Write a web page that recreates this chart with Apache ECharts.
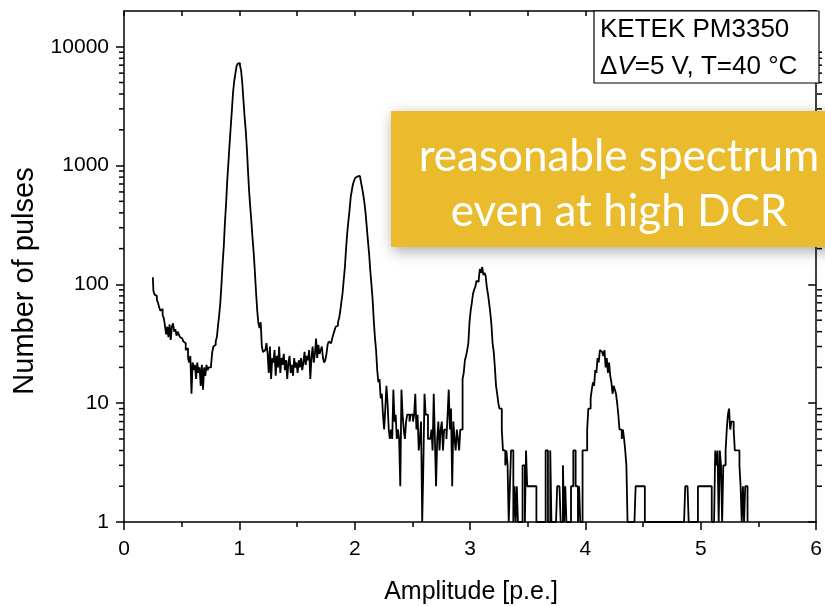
<!DOCTYPE html>
<html>
<head>
<meta charset="utf-8">
<script src="https://cdn.jsdelivr.net/npm/echarts@6/dist/echarts.min.js"></script>
<style>
html,body{margin:0;padding:0;background:#fff;}
#c{width:825px;height:606px;}
</style>
</head>
<body>
<div id="c"></div>
<script>
// ---- data ----
const binStart = 0.25;      // amplitude of first bin centre [p.e.]
const binWidth = 0.01;      // bin width [p.e.]
const counts = [
  115, 88, 82, 80, 74,
  70, 64, 60, 62, 55, 52, 45, 38, 44, 36,
  46, 34, 44, 47, 40, 42, 37, 40, 38, 36,
  35, 36, 33, 32, 28, 29, 24, 22, 25, 12,
  22, 19, 21, 16, 22, 18, 20, 14, 21, 13,
  20, 17, 21, 19, 20, 20, 21, 27, 30, 31,
  33, 36, 45, 55, 70, 100, 150, 210, 330, 480,
  750, 1050, 1500, 2100, 2900, 4100, 5100, 5900, 6800, 7200,
  7300, 7000, 6300, 5000, 3600, 2600, 2000, 1400, 900, 600,
  440, 330, 240, 180, 125, 85, 60, 47, 43, 48,
  30, 27, 28, 27, 32, 26, 18, 30, 16, 24,
  22, 28, 17, 25, 20, 30, 18, 24, 21, 26,
  19, 23, 16, 22, 25, 18, 21, 17, 24, 20,
  22, 18, 23, 20, 24, 19, 22, 27, 21, 25,
  23, 28, 16, 24, 30, 22, 26, 35, 24, 31,
  26, 28, 30, 24, 22, 23, 26, 31, 33, 32,
  33, 35, 38, 41, 44, 45, 48, 52, 60, 72,
  85, 110, 140, 200, 270, 340, 420, 540, 620, 700,
  750, 790, 810, 800, 820, 810, 720, 640, 560, 480,
  390, 300, 230, 180, 130, 100, 75, 50, 36, 28,
  19, 15, 16, 11, 12, 8, 6, 9, 14, 10,
  6, 5, 6, 5, 13, 7, 8, 5, 6, 5,
  2, 13, 8, 6, 5, 7, 8, 8, 7, 8,
  8, 7, 8, 12, 6, 8, 4, 5, 7, 1,
  3, 12, 8, 8, 5, 5, 5, 6, 4, 12,
  5, 2, 5, 7, 4, 6, 7, 4, 6, 6,
  5, 8, 13, 6, 9, 2, 7, 5, 4, 6,
  5, 4, 6, 6, 16, 18, 23, 25, 28, 32,
  48, 60, 70, 83, 90, 95, 107, 105, 110, 135,
  125, 140, 120, 125, 118, 95, 83, 70, 58, 46,
  32, 27, 20, 14, 12, 10, 9, 9, 6, 4,
  4, 3, 4, 3, 1, 2, 4, 4, 1, 2,
  1, 2, 1, 1, 1, 1, 3, 3, 1, 4,
  2, 2, 2, 2, 2, 2, 2, 2, 1, 1,
  1, 1, 1, 1, 1, 1, 4, 4, 1, 1,
  4, 1, 1, 1, 1, 1, 2, 2, 2, 1,
  1, 3, 1, 2, 1, 1, 1, 1, 2, 2,
  4, 4, 2, 2, 1, 2, 1, 1, 4, 4,
  4, 4, 6, 9, 9, 11, 13, 15, 14, 19,
  18, 24, 22, 28, 27, 28, 25, 28, 20, 24,
  18, 22, 17, 15, 12, 14, 13, 12, 10, 8,
  6, 6, 5, 6, 5, 4, 3, 1, 1, 1,
  1, 1, 1, 1, 2, 2, 2, 2, 2, 2,
  2, 2, 1, 1, 1, 1, 1, 1, 1, 1,
  1, 1, 1, 1, 1, 1, 1, 1, 1, 1,
  1, 1, 1, 1, 1, 1, 1, 1, 1, 1,
  1, 1, 1, 1, 1, 1, 1, 2, 2, 2,
  1, 1, 1, 1, 1, 1, 1, 1, 2, 2,
  2, 2, 2, 2, 2, 2, 2, 2, 2, 2,
  1, 1, 1, 4, 3, 4, 1, 4, 3, 1,
  3, 3, 4, 6, 8, 9, 6, 7, 7, 6,
  4, 4, 4, 4, 3, 2, 1, 2, 1, 2,
  2, 1
];
const xMin = 0, xMax = 6;
const yMin = 1, yMax = 20000;
const yTickLabels = ['1', '10', '100', '1000', '10000'];
const minorMultipliers = [2, 3, 4, 5, 6, 7, 8, 9];
const xTitle = 'Amplitude [p.e.]';
const yTitle = 'Number of pulses';
const infoLine1 = 'KETEK PM3350';
const infoLine2Parts = ['Δ', 'V', '=5 V, T=40 °C'];
const calloutLines = ['reasonable spectrum', 'even at high DCR'];

// ---- chart ----
const seriesData = counts.map((c, i) => [+(binStart + i * binWidth).toFixed(2), c]);
const FONT = 'Liberation Sans, Arial, sans-serif';
const chart = echarts.init(document.getElementById('c'), null, {renderer: 'canvas'});

const G = {left: 124, right: 3, top: 11, bottom: 84};
const axisLineStyle = {color: '#000', width: 1.5};

chart.setOption({
  animation: false,
  backgroundColor: '#fff',
  grid: {left: G.left, right: G.right, top: G.top, bottom: G.bottom, containLabel: false},
  xAxis: [
    {
      type: 'value', min: xMin, max: xMax, interval: 1, position: 'bottom',
      axisLine: {show: true, onZero: false, lineStyle: axisLineStyle},
      axisTick: {show: true, inside: false, length: 8, lineStyle: axisLineStyle},
      minorTick: {show: true, splitNumber: 2, length: 5, lineStyle: axisLineStyle},
      splitLine: {show: false},
      axisLabel: {fontSize: 21, color: '#000', margin: 17, fontFamily: FONT}
    },
    {
      type: 'value', min: xMin, max: xMax, interval: 0.5, position: 'top',
      axisLine: {show: true, onZero: false, lineStyle: axisLineStyle},
      axisTick: {show: true, inside: true, length: 5, lineStyle: axisLineStyle},
      splitLine: {show: false},
      axisLabel: {show: false}
    }
  ],
  yAxis: [
    {
      type: 'log', logBase: 10, min: yMin, max: yMax, position: 'left',
      axisLine: {show: true, onZero: false, lineStyle: axisLineStyle},
      axisTick: {show: true, inside: false, length: 8, lineStyle: axisLineStyle},
      splitLine: {show: false},
      axisLabel: {
        fontSize: 21, color: '#000', margin: 15, fontFamily: FONT,
        showMaxLabel: false,
        formatter: function (v) {
          const s = String(Math.round(v));
          return yTickLabels.indexOf(s) >= 0 ? s : '';
        }
      }
    },
    {
      type: 'log', logBase: 10, min: yMin, max: yMax, position: 'right',
      axisLine: {show: true, onZero: false, lineStyle: axisLineStyle},
      axisTick: {show: true, inside: true, length: 8, lineStyle: axisLineStyle},
      splitLine: {show: false},
      axisLabel: {show: false}
    }
  ],
  series: [{
    type: 'line',
    xAxisIndex: 0, yAxisIndex: 0,
    step: 'middle',
    data: seriesData,
    symbol: 'none',
    clip: true,
    lineStyle: {color: '#000', width: 1.8},
    z: 3
  }]
});

// minor log ticks + annotations
const elements = [];
const plotLeft = G.left, plotRight = 825 - G.right;
for (let k = 0; Math.pow(10, k + 1) <= yMax; k++) {
  minorMultipliers.forEach(m => {
    const v = m * Math.pow(10, k);
    if (v >= yMax) return;
    const y = chart.convertToPixel({yAxisIndex: 0}, v);
    elements.push({type: 'line', shape: {x1: plotLeft - 5, y1: y, x2: plotLeft, y2: y},
      style: {stroke: '#000', lineWidth: 1.5}, z: 10});
    elements.push({type: 'line', shape: {x1: plotRight - 5, y1: y, x2: plotRight, y2: y},
      style: {stroke: '#000', lineWidth: 1.5}, z: 10});
  });
}

// axis titles
elements.push({
  type: 'text', x: 471, y: 592, z: 10,
  style: {text: xTitle, font: '25px ' + FONT, fill: '#000', textAlign: 'center', textVerticalAlign: 'middle'}
});
elements.push({
  type: 'text', x: 25, y: 281, rotation: Math.PI / 2, z: 10,
  style: {text: yTitle, font: '29px ' + FONT, fill: '#000', textAlign: 'center', textVerticalAlign: 'middle'}
});

// info box
elements.push({
  type: 'rect', shape: {x: 594, y: 11, width: 225, height: 72},
  style: {fill: '#fff', stroke: '#000', lineWidth: 1.2}, z: 20
});
elements.push({
  type: 'text', x: 600, y: 30, z: 21,
  style: {text: infoLine1, font: '26px ' + FONT, fill: '#000', textAlign: 'left', textVerticalAlign: 'middle'}
});
elements.push({
  type: 'text', x: 600, y: 67, z: 21,
  style: {
    text: '{n|' + infoLine2Parts[0] + '}{i|' + infoLine2Parts[1] + '}{n|' + infoLine2Parts[2] + '}',
    textAlign: 'left', textVerticalAlign: 'middle',
    rich: {
      n: {fontSize: 26, fontFamily: FONT, fill: '#000', color: '#000'},
      i: {fontSize: 26, fontFamily: FONT, fontStyle: 'italic', fill: '#000', color: '#000'}
    }
  }
});

// callout
elements.push({
  type: 'rect', shape: {x: 391, y: 111, width: 450, height: 136},
  style: {fill: '#EBBB2E', shadowBlur: 14, shadowColor: 'rgba(0,0,0,0.35)', shadowOffsetX: 2, shadowOffsetY: 4},
  z: 30
});
elements.push({
  type: 'text', x: 619, y: 157, z: 31,
  style: {text: calloutLines[0], font: '44px Lato, "Open Sans", sans-serif', fill: '#fff', textAlign: 'center', textVerticalAlign: 'middle'}
});
elements.push({
  type: 'text', x: 619, y: 212, z: 31,
  style: {text: calloutLines[1], font: '44px Lato, "Open Sans", sans-serif', fill: '#fff', textAlign: 'center', textVerticalAlign: 'middle'}
});

chart.setOption({graphic: {elements: elements}});
</script>
</body>
</html>
